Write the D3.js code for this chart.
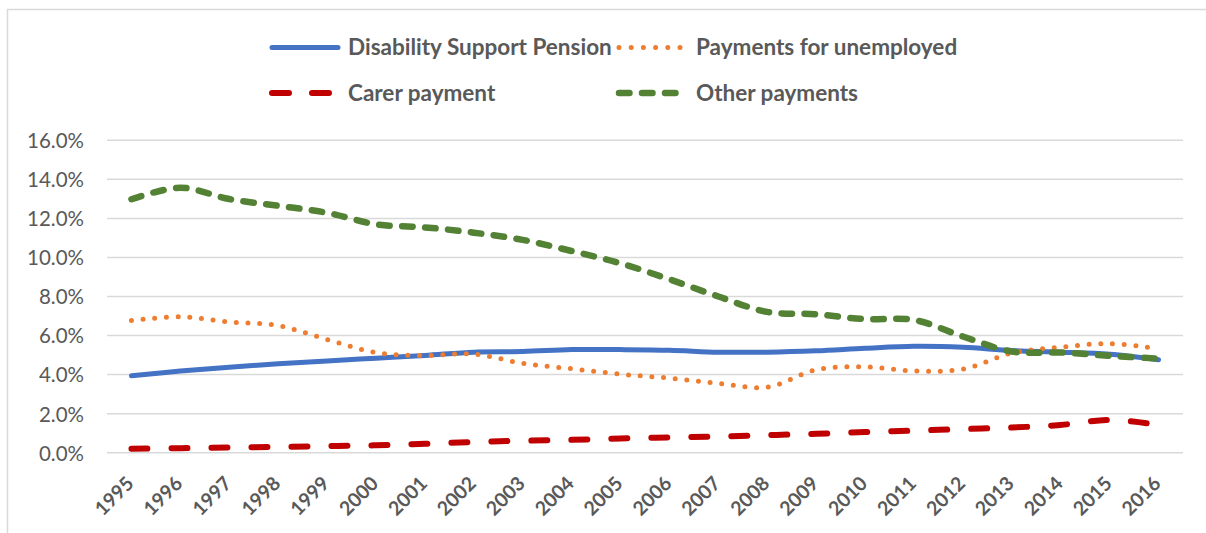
<!DOCTYPE html>
<html>
<head>
<meta charset="utf-8">
<script src="https://cdn.jsdelivr.net/npm/d3@7"></script>
<style>
  html, body { margin: 0; padding: 0; background: #fff; }
  svg { display: block; }
  text { font-family: Lato, "Open Sans", sans-serif; fill: #595959; }
</style>
</head>
<body>
<svg id="chart" width="1206" height="533"></svg>
<script>
// Share of working-age population on income support payments, 1995–2016
const years = ["1995","1996","1997","1998","1999","2000","2001","2002","2003","2004","2005",
               "2006","2007","2008","2009","2010","2011","2012","2013","2014","2015","2016"];

const disabilitySupport = [3.94, 4.18, 4.38, 4.55, 4.70, 4.84, 4.98, 5.15, 5.18, 5.28, 5.28,
                           5.25, 5.15, 5.15, 5.22, 5.35, 5.45, 5.40, 5.23, 5.15, 5.04, 4.76];
const unemployed        = [6.77, 6.96, 6.70, 6.51, 5.80, 5.13, 4.98, 5.05, 4.58, 4.30, 4.02,
                           3.82, 3.55, 3.36, 4.25, 4.40, 4.19, 4.28, 5.10, 5.40, 5.59, 5.32];
const carer             = [0.20, 0.23, 0.27, 0.30, 0.34, 0.38, 0.46, 0.55, 0.61, 0.66, 0.73,
                           0.78, 0.83, 0.90, 0.97, 1.06, 1.13, 1.21, 1.29, 1.42, 1.68, 1.42];
const otherPayments     = [12.98, 13.57, 12.99, 12.65, 12.29, 11.70, 11.54, 11.27, 10.90, 10.33, 9.70,
                           8.88, 8.00, 7.21, 7.09, 6.84, 6.80, 5.95, 5.18, 5.13, 4.96, 4.82];

const yTicks = [0, 2, 4, 6, 8, 10, 12, 14, 16];

const series = [
  { name: "Disability Support Pension", values: disabilitySupport, color: "#4472C4", width: 5,   dash: null,        cap: "round" },
  { name: "Payments for unemployed",    values: unemployed,        color: "#ED7D31", width: 5,   dash: "0,11.7",    cap: "round" },
  { name: "Carer payment",              values: carer,             color: "#C00000", width: 6,   dash: "16,24",     cap: "round" },
  { name: "Other payments",             values: otherPayments,     color: "#548235", width: 6.5, dash: "10.5,12.5", cap: "round" }
];

const svg = d3.select("#chart");

// chart frame
svg.append("path")
  .attr("d", "M7.5,540 V9.5 H1215")
  .attr("fill", "none")
  .attr("stroke", "#D9D9D9")
  .attr("stroke-width", 1.5);

const plot = { left: 107, right: 1183, top: 140.3, bottom: 452.7 };

const x = d3.scaleBand().domain(years).range([plot.left, plot.right]);
const y = d3.scaleLinear().domain([0, 16]).range([plot.bottom, plot.top]);

// gridlines
svg.append("g")
  .selectAll("line")
  .data(yTicks)
  .join("line")
  .attr("x1", plot.left).attr("x2", plot.right)
  .attr("y1", d => y(d)).attr("y2", d => y(d))
  .attr("stroke", "#D9D9D9")
  .attr("stroke-width", 1.5);

// y axis labels
const yAxis = d3.axisLeft(y).tickValues(yTicks).tickSize(0).tickPadding(0)
  .tickFormat(d => d.toFixed(1) + "%");
svg.append("g")
  .attr("transform", "translate(84,0)")
  .call(yAxis)
  .call(g => g.select(".domain").remove())
  .call(g => g.selectAll("text")
    .attr("font-family", "Lato, sans-serif")
    .attr("font-size", 20.5)
    .attr("fill", "#595959")
    .attr("dy", "0.36em"));

// x axis labels, rotated
const xAxis = d3.axisBottom(x).tickSize(0).tickPadding(0);
svg.append("g")
  .attr("transform", `translate(0,${plot.bottom})`)
  .call(xAxis)
  .call(g => g.select(".domain").remove())
  .call(g => g.selectAll("text")
    .attr("font-family", "Lato, sans-serif")
    .attr("font-size", 19.5)
    .attr("font-weight", "bold")
    .attr("fill", "#595959")
    .attr("text-anchor", "end")
    .attr("dy", null)
    .attr("y", 0)
    .attr("transform", "translate(3.5,32) rotate(-45)"));

// series lines
const line = d3.line()
  .x((d, i) => x(years[i]) + x.bandwidth() / 2)
  .y(d => y(d))
  .curve(d3.curveCatmullRom.alpha(0.5));

svg.append("g")
  .selectAll("path")
  .data(series)
  .join("path")
  .attr("d", s => line(s.values))
  .attr("fill", "none")
  .attr("stroke", s => s.color)
  .attr("stroke-width", s => s.width)
  .attr("stroke-linecap", s => s.cap)
  .attr("stroke-linejoin", "round")
  .attr("stroke-dasharray", s => s.dash);

// legend
const legendPos = [
  { sx: 272, tx: 348, ty: 47.5 },
  { sx: 619, tx: 696, ty: 47.5 },
  { sx: 272, tx: 348, ty: 93 },
  { sx: 619, tx: 696, ty: 93 }
];
const legend = svg.append("g")
  .selectAll("g")
  .data(series)
  .join("g");

legend.append("line")
  .attr("x1", (s, i) => legendPos[i].sx)
  .attr("x2", (s, i) => legendPos[i].sx + 66)
  .attr("y1", (s, i) => legendPos[i].ty)
  .attr("y2", (s, i) => legendPos[i].ty)
  .attr("stroke", s => s.color)
  .attr("stroke-width", s => s.width)
  .attr("stroke-linecap", s => s.cap)
  .attr("stroke-dasharray", (s, i) => i === 1 ? "0,12.2" : (i === 2 ? "17,23" : s.dash));

legend.append("text")
  .attr("x", (s, i) => legendPos[i].tx)
  .attr("y", (s, i) => legendPos[i].ty)
  .attr("dy", "0.35em")
  .attr("font-size", 22.5)
  .attr("font-weight", "bold")
  .text(s => s.name);
</script>
</body>
</html>
